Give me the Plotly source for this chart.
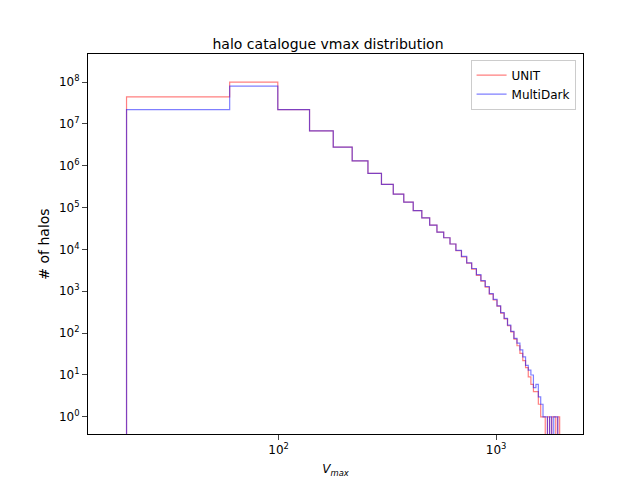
import numpy as np
import plotly.graph_objects as go

edges = list(np.linspace(20, 2000, 51))
unit = [4.4e7, 1.0e8, 2.2e7, 6.8e6, 2.8e6, 1.3e6, 6.6e5, 3.6e5, 2.1e5, 1.35e5,
        8.5e4, 5.7e4, 3.8e4, 2.6e4, 1.9e4, 1.35e4, 9.3e3, 6.6e3, 4.7e3, 3.4e3,
        2.4e3, 1.75e3, 1.26e3, 860, 620, 440, 300, 220, 150, 107,
        72, 50, 33, 22, 15, 9, 6, 4, 4, 2,
        1, 1, 0, 1, 0, 1, 1, 0, 1, 0]
multidark = [2.2e7, 8.0e7, 2.2e7, 6.8e6, 2.8e6, 1.3e6, 6.6e5, 3.6e5, 2.1e5, 1.35e5,
             8.5e4, 5.7e4, 3.8e4, 2.6e4, 1.9e4, 1.35e4, 9.5e3, 6.8e3, 4.8e3, 3.5e3,
             2.5e3, 1.8e3, 1.3e3, 880, 640, 450, 310, 225, 155, 110,
             75, 58, 40, 27, 17, 13, 10, 5, 6, 3,
             2, 1, 1, 0, 1, 0, 1, 1, 0, 0]

def step(counts):
    floor = 1e-3
    xs = [edges[0]]
    ys = [floor]
    for i, c in enumerate(counts):
        v = c if c > 0 else floor
        xs += [edges[i], edges[i + 1]]
        ys += [v, v]
    xs.append(edges[-1]); ys.append(floor)
    return xs, ys

fig = go.Figure()
for name, data, col in [("UNIT", unit, "rgba(255,0,0,0.5)"), ("MultiDark", multidark, "rgba(0,0,255,0.5)")]:
    x, y = step(data)
    fig.add_trace(go.Scatter(x=x, y=y, mode="lines", name=name, line=dict(color=col, width=1.2)))

fig.update_layout(
    width=640, height=480, plot_bgcolor="white", paper_bgcolor="white",
    margin=dict(l=80, r=65, t=46, b=54),
    font=dict(family="DejaVu Sans", size=12, color="black"),
    title=dict(text="halo catalogue vmax distribution", x=0.5, xanchor="center", y=0.935, font=dict(size=14)),
    legend=dict(x=0.985, y=0.985, xanchor="right", yanchor="top", bordercolor="#cccccc", borderwidth=1,
                font=dict(size=12)),
)
fig.update_xaxes(type="log", range=[np.log10(13.3), np.log10(2510)], showgrid=False, showline=True,
                 linecolor="black", mirror=True, ticks="outside", tickvals=[100, 1000], automargin=False,
                 ticktext=["10<sup>2</sup>", "10<sup>3</sup>"],
                 title=dict(text="<i>V<sub>max</sub></i>", font=dict(size=12), standoff=8))
fig.update_yaxes(type="log", range=[-0.41, 8.67], showgrid=False, showline=True, linecolor="black", mirror=True,
                 ticks="outside", tickvals=[10**k for k in range(9)], automargin=False,
                 ticktext=[f"10<sup>{k}</sup>" for k in range(9)], title=dict(text="# of halos", standoff=6))
fig.write_html("out.html")
